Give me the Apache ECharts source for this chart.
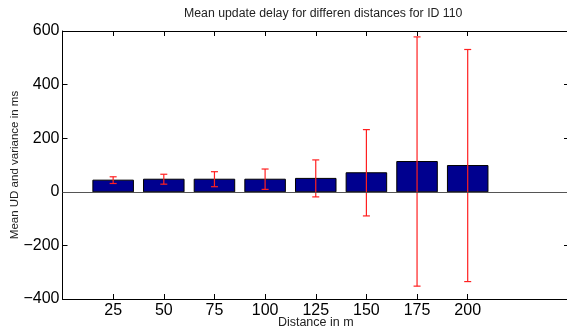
<!DOCTYPE html>
<html>
<head>
    <meta charset="utf-8">
    <title>Mean update delay</title>
    <style>
        html, body { margin: 0; padding: 0; background: #fff; }
        #main { width: 567px; height: 332px; }
    </style>
</head>
<body>
    <div id="main"></div>
    <script src="https://cdn.jsdelivr.net/npm/echarts@6/dist/echarts.min.js"></script>
    <script>
        // distances (x categories) and values
        var distances = ['25', '50', '75', '100', '125', '150', '175', '200'];
        var meanUD = [43.5, 47, 47, 47, 50, 71, 113, 98];
        var variance = [12.5, 18.5, 28, 38, 69, 161, 465, 433];
        var yTicks = [-400, -200, 0, 200, 400, 600];

        var positions = distances.map(function (d, i) { return i + 1; });
        var barData = distances.map(function (d, i) { return [i + 1, meanUD[i]]; });
        var errData = distances.map(function (d, i) { return [i + 1, meanUD[i], variance[i]]; });

        var fontFam = '"Liberation Sans", Arial, sans-serif';
        var chart = echarts.init(document.getElementById('main'));

        var option = {
            animation: false,
            title: {
                text: 'Mean update delay for differen distances for ID 110',
                left: 179,
                top: 3,
                textStyle: { fontSize: 12.3, fontWeight: 'normal', color: '#222', fontFamily: fontFam }
            },
            grid: { left: 62.5, right: -2, top: 31, bottom: 33, outerBoundsMode: 'none', containLabel: false },
            xAxis: [{
                type: 'value',
                min: 0,
                max: 10,
                interval: 1,
                name: 'Distance in m',
                nameLocation: 'middle',
                nameGap: 17.5,
                nameMoveOverlap: false,
                nameTextStyle: { fontSize: 12.5, color: '#222', fontFamily: fontFam },
                axisLine: { onZero: false, lineStyle: { color: '#000', width: 1 } },
                axisTick: { inside: true, length: 5, customValues: positions, lineStyle: { color: '#000' } },
                axisLabel: {
                    customValues: positions,
                    margin: 4,
                    fontSize: 16,
                    color: '#000',
                    fontFamily: fontFam,
                    formatter: function (v) { return distances[v - 1] || ''; }
                },
                splitLine: { show: false }
            }, {
                type: 'value',
                position: 'top',
                min: 0,
                max: 10,
                interval: 1,
                axisLine: { onZero: false, lineStyle: { color: '#000', width: 1 } },
                axisTick: { inside: true, length: 5, customValues: positions, lineStyle: { color: '#000' } },
                axisLabel: { show: false },
                splitLine: { show: false }
            }],
            yAxis: [{
                type: 'value',
                min: yTicks[0],
                max: yTicks[yTicks.length - 1],
                interval: 200,
                name: 'Mean UD and variance in ms',
                nameLocation: 'middle',
                nameGap: 42,
                nameMoveOverlap: false,
                nameTextStyle: { fontSize: 11.5, color: '#222', fontFamily: fontFam },
                axisLine: { show: true, onZero: false, lineStyle: { color: '#000', width: 1 } },
                axisTick: { show: true, inside: true, length: 5, lineStyle: { color: '#000' } },
                axisLabel: {
                    margin: 3,
                    fontSize: 16,
                    color: '#000',
                    fontFamily: fontFam,
                    formatter: function (v) { return String(v).replace('-', '\u2212'); }
                },
                splitLine: { show: false }
            }, {
                type: 'value',
                position: 'right',
                min: yTicks[0],
                max: yTicks[yTicks.length - 1],
                interval: 200,
                axisLine: { show: true, onZero: false, lineStyle: { color: '#000', width: 1 } },
                axisTick: { show: true, inside: true, length: 5, lineStyle: { color: '#000' } },
                axisLabel: { show: false },
                splitLine: { show: false }
            }],
            series: [{
                type: 'custom',
                name: 'mean',
                data: barData,
                z: 2,
                renderItem: function (params, api) {
                    var x = api.value(0), y = api.value(1);
                    var p0 = api.coord([x - 0.4, y]);
                    var p1 = api.coord([x + 0.4, 0]);
                    return {
                        type: 'rect',
                        shape: { x: p0[0], y: p0[1], width: p1[0] - p0[0], height: p1[1] - p0[1] },
                        style: { fill: '#00008F', stroke: '#000', lineWidth: 1 }
                    };
                },
                markLine: {
                    silent: true,
                    symbol: 'none',
                    label: { show: false },
                    lineStyle: { color: '#555', width: 1, type: 'solid' },
                    data: [{ yAxis: 0 }]
                }
            }, {
                type: 'custom',
                name: 'variance',
                data: errData,
                z: 3,
                renderItem: function (params, api) {
                    var x = api.value(0), m = api.value(1), e = api.value(2);
                    var top = api.coord([x, m + e]);
                    var bot = api.coord([x, m - e]);
                    var cap = 3.5;
                    var st = { stroke: '#FF2020', lineWidth: 1.2 };
                    return {
                        type: 'group',
                        children: [
                            { type: 'line', shape: { x1: top[0], y1: top[1], x2: bot[0], y2: bot[1] }, style: st },
                            { type: 'line', shape: { x1: top[0] - cap, y1: top[1], x2: top[0] + cap, y2: top[1] }, style: st },
                            { type: 'line', shape: { x1: bot[0] - cap, y1: bot[1], x2: bot[0] + cap, y2: bot[1] }, style: st }
                        ]
                    };
                }
            }]
        };

        chart.setOption(option);
    </script>
</body>
</html>
